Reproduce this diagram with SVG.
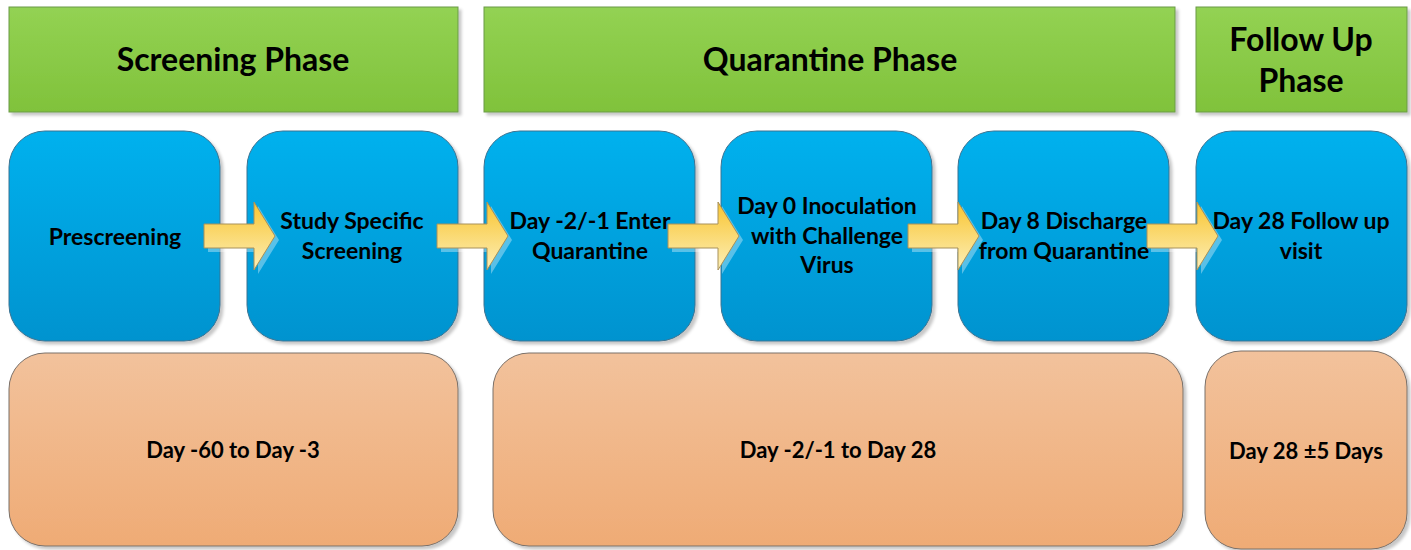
<svg xmlns="http://www.w3.org/2000/svg" width="1411" height="550" viewBox="0 0 1411 550">
<defs>
<linearGradient id="gGreen" x1="0" y1="0" x2="0" y2="1"><stop offset="0" stop-color="#93d253"/><stop offset="1" stop-color="#80c23b"/></linearGradient>
<linearGradient id="gBlue" x1="0" y1="0" x2="0" y2="1"><stop offset="0" stop-color="#00b1ee"/><stop offset="1" stop-color="#0093cf"/></linearGradient>
<linearGradient id="gOrange" x1="0" y1="0" x2="0" y2="1"><stop offset="0" stop-color="#f2c29c"/><stop offset="1" stop-color="#efab75"/></linearGradient>
<linearGradient id="gArrow" x1="0" y1="0" x2="0" y2="1"><stop offset="0" stop-color="#f9c531"/><stop offset="1" stop-color="#fcefb8"/></linearGradient>
<filter id="sh" x="-10%" y="-10%" width="130%" height="130%"><feDropShadow dx="3" dy="3" stdDeviation="1.5" flood-color="#000" flood-opacity="0.22"/></filter>
<path id="arrow" d="M0,-12 L50,-12 L50,-34 L71,0 L50,34 L50,12 L0,12 Z"/>
</defs>
<style>
.green{fill:url(#gGreen);stroke:#6a9a48;stroke-width:1;filter:url(#sh)}
.blue{fill:url(#gBlue);stroke:#3d7391;stroke-width:1;filter:url(#sh)}
.orange{fill:url(#gOrange);stroke:#7a7068;stroke-width:1;filter:url(#sh)}
.arr{fill:url(#gArrow);stroke:#a8915a;stroke-width:1}
.arrsh{fill:#ffffff;opacity:0.35}
text{font-family:Lato,"Open Sans","Liberation Sans",sans-serif;font-weight:bold;fill:#000;text-anchor:middle}
.h{font-size:32px}
.b{font-size:23px}
.o{font-size:22px}
</style>
<g id="header-screening"><rect class="green" x="9" y="7" width="449" height="105"/><text class="h" x="233" y="71">Screening Phase</text></g>
<g id="header-quarantine"><rect class="green" x="484" y="7" width="691" height="105"/><text class="h" x="830" y="71">Quarantine Phase</text></g>
<g id="header-followup"><rect class="green" x="1196" y="7" width="211" height="105"/><text class="h" x="1301" y="51">Follow Up</text><text class="h" x="1301" y="92">Phase</text></g>

<g id="step-prescreening"><rect class="blue" x="9" y="131" width="211" height="210" rx="36"/><text class="b" x="115" y="245">Prescreening</text></g>
<g id="step-study-screening"><rect class="blue" x="247" y="131" width="211" height="210" rx="36"/><text class="b" x="352" y="229">Study Specific</text><text class="b" x="352" y="259">Screening</text></g>
<g id="step-enter-quarantine"><rect class="blue" x="484" y="131" width="211" height="210" rx="36"/><text class="b" x="590" y="229">Day -2/-1 Enter</text><text class="b" x="590" y="259">Quarantine</text></g>
<g id="step-inoculation"><rect class="blue" x="721" y="131" width="211" height="210" rx="36"/><text class="b" x="827" y="214">Day 0 Inoculation</text><text class="b" x="827" y="244">with Challenge</text><text class="b" x="827" y="273">Virus</text></g>
<g id="step-discharge"><rect class="blue" x="958" y="131" width="211" height="210" rx="36"/><text class="b" x="1064" y="229">Day 8 Discharge</text><text class="b" x="1064" y="259">from Quarantine</text></g>
<g id="step-followup"><rect class="blue" x="1196" y="131" width="211" height="210" rx="36"/><text class="b" x="1301" y="229">Day 28 Follow up</text><text class="b" x="1301" y="259">visit</text></g>

<g id="time-screening"><rect class="orange" x="9" y="353" width="449" height="193" rx="36"/><text class="o" x="233" y="458">Day -60 to Day -3</text></g>
<g id="time-quarantine"><rect class="orange" x="493" y="353" width="690" height="193" rx="36"/><text class="o" x="838" y="458">Day -2/-1 to Day 28</text></g>
<g id="time-followup"><rect class="orange" x="1205" y="351" width="202" height="198" rx="36"/><text class="o" x="1306" y="459">Day 28 ±5 Days</text></g>

<g id="connectors">
<use href="#arrow" class="arrsh" x="208" y="240"/><use href="#arrow" class="arr" x="204" y="236"/>
<use href="#arrow" class="arrsh" x="441" y="240"/><use href="#arrow" class="arr" x="437" y="236"/>
<use href="#arrow" class="arrsh" x="672" y="240"/><use href="#arrow" class="arr" x="668" y="236"/>
<use href="#arrow" class="arrsh" x="912" y="240"/><use href="#arrow" class="arr" x="908" y="236"/>
<use href="#arrow" class="arrsh" x="1151" y="240"/><use href="#arrow" class="arr" x="1147" y="236"/>
</g>
</svg>
